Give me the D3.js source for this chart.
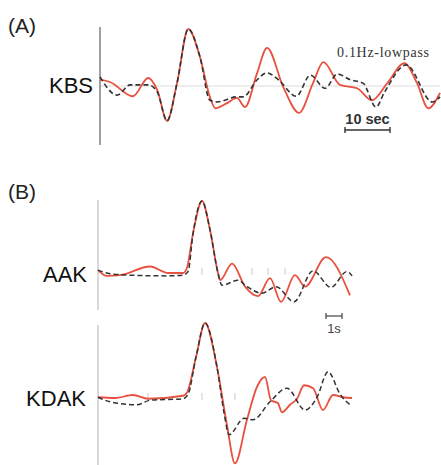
<!DOCTYPE html>
<html>
<head>
<meta charset="utf-8">
<script src="https://cdn.jsdelivr.net/npm/d3@7"></script>
<style>
  body { margin: 0; background: #fff; }
  svg { display: block; }
</style>
</head>
<body>
<div id="chart"></div>
<script>
// panel A (KBS, 0.1Hz lowpass), time in sec, amplitude normalised to main peak
var kbsRedT = [0, 2.2, 7.3, 10.7, 12.7, 14.9, 17.1, 19.6, 22.2, 24.4, 25.6, 28.2, 30.4, 32.2, 34.9, 37.1, 40.7, 44.2, 47.3, 49.6, 53.3, 57.1, 60.4, 63.8, 67.6, 70.4, 72.9, 75.5];
var kbsRed  = [0.11, 0.07, -0.18, 0.14, -0.07, -0.61, 0.05, 1.0, 0.51, -0.19, -0.39, -0.30, -0.21, -0.37, 0.23, 0.67, -0.02, -0.47, 0.05, 0.42, 0.02, -0.04, -0.25, 0.05, 0.40, 0.05, -0.39, -0.12];
var kbsDashT = [0, 3.8, 6.7, 10.7, 12.7, 14.9, 17.1, 19.6, 22.2, 24.4, 26.0, 30.4, 31.8, 34.9, 37.1, 39.6, 43.6, 46.7, 50.0, 52.7, 55.6, 58.4, 61.3, 63.1, 68.0, 73.8, 75.5];
var kbsDash  = [0.16, -0.16, 0.02, 0.02, -0.10, -0.61, 0.05, 1.0, 0.51, -0.25, -0.28, -0.19, -0.19, 0.11, 0.23, 0.11, -0.18, 0.19, -0.04, 0.21, 0.11, 0.05, -0.37, -0.12, 0.37, -0.28, -0.19];

// panel B, time in sec
var aakRedT = [0, 0.54, 1.38, 3.25, 4.38, 5.31, 5.56, 5.94, 6.5, 7.0, 7.5, 7.63, 8.38, 9.19, 10.0, 10.75, 11.44, 12.31, 12.94, 14.25, 15.75];
var aakRed  = [0.04, -0.04, -0.03, 0.09, 0.0, 0.0, 0.07, 0.55, 1.0, 0.60, 0.0, -0.10, 0.13, -0.19, -0.32, -0.07, -0.40, -0.03, -0.19, 0.22, -0.31];
var aakDashT = [0, 0.75, 2.0, 4.31, 5.31, 5.63, 5.94, 6.5, 7.0, 7.5, 7.75, 8.75, 9.31, 10.25, 11.13, 12.25, 13.44, 14.56, 15.56, 15.88];
var aakDash  = [0.04, -0.01, -0.03, -0.04, -0.03, 0.02, 0.55, 1.0, 0.60, 0.0, -0.17, -0.10, -0.19, -0.28, -0.19, -0.40, 0.03, -0.20, 0.02, -0.04];
var kdakRedT = [0, 1.06, 2.19, 3.13, 5.31, 5.56, 6.13, 6.69, 7.44, 8.06, 8.56, 9.31, 9.94, 10.44, 10.81, 11.25, 11.5, 12.0, 12.44, 12.88, 13.44, 14.06, 14.69, 15.31, 15.88];
var kdakRed  = [0.01, 0.0, 0.04, -0.01, 0.03, 0.07, 0.55, 1.0, 0.41, -0.36, -0.87, -0.29, 0.15, 0.28, -0.03, -0.07, -0.19, -0.09, -0.01, 0.17, 0.13, -0.16, 0.04, 0.01, 0.0];
var kdakDashT = [0, 0.75, 2.44, 3.25, 5.31, 5.63, 6.13, 6.69, 7.44, 7.88, 8.19, 9.13, 9.69, 10.75, 11.81, 12.94, 13.69, 14.38, 15.13, 15.81];
var kdakDash  = [0.01, -0.05, -0.09, -0.03, -0.01, 0.05, 0.55, 1.0, 0.41, -0.20, -0.49, -0.27, -0.29, -0.05, 0.13, -0.16, 0.01, 0.35, 0.05, -0.10];
var aakTicks = [6.5, 9.63, 10.63, 11.69];
var kdakTicks = [3.13, 6.5, 8.56];

var w = 441, h = 465;
var red = "#e8503f", dark = "#333";

var svg = d3.select("#chart").append("svg")
    .attr("width", w).attr("height", h)
    .style("font-family", "Liberation Sans, Arial, sans-serif");

function zip(t, v) {
    return t.map(function(d, i) { return [d, v[i]]; });
}

// ---- panel A
var xA = d3.scaleLinear().domain([0, 75.5]).range([100, 440]);
var yA = d3.scaleLinear().domain([-1, 1]).range([143, 29]);

svg.append("line") // zero line
    .attr("x1", xA(0)).attr("x2", xA(75.5))
    .attr("y1", yA(0)).attr("y2", yA(0))
    .attr("stroke", "#ddd").attr("stroke-width", 1);

svg.append("line") // left axis
    .attr("x1", xA(0)).attr("x2", xA(0))
    .attr("y1", 27).attr("y2", 145)
    .attr("stroke", "#888").attr("stroke-width", 1.6);

var lineA = d3.line()
    .x(function(d) { return xA(d[0]); })
    .y(function(d) { return yA(d[1]); })
    .curve(d3.curveMonotoneX);

svg.append("path").attr("d", lineA(zip(kbsRedT, kbsRed)))
    .attr("fill", "none").attr("stroke", red).attr("stroke-width", 1.8);
svg.append("path").attr("d", lineA(zip(kbsDashT, kbsDash)))
    .attr("fill", "none").attr("stroke", dark).attr("stroke-width", 1.6)
    .attr("stroke-dasharray", "5,3");

svg.append("text").attr("x", 8).attr("y", 33).text("(A)")
    .style("font-size", "21px").attr("fill", "#222");
svg.append("text").attr("x", 93).attr("y", 93).attr("text-anchor", "end").text("KBS")
    .style("font-size", "22px").attr("fill", "#111");
svg.append("text").attr("x", 337).attr("y", 57).text("0.1Hz-lowpass")
    .style("font-family", "Liberation Serif, Times New Roman, serif")
    .style("font-size", "14px").style("letter-spacing", "0.7px").attr("fill", "#333");

// 10 sec scale bar
var sbA = 54.4;
var gA = svg.append("g").attr("stroke", "#333").attr("stroke-width", 1.4);
gA.append("line").attr("x1", xA(sbA)).attr("x2", xA(sbA + 10)).attr("y1", 130).attr("y2", 130);
gA.append("line").attr("x1", xA(sbA)).attr("x2", xA(sbA)).attr("y1", 127).attr("y2", 133);
gA.append("line").attr("x1", xA(sbA + 10)).attr("x2", xA(sbA + 10)).attr("y1", 127).attr("y2", 133);
svg.append("text").attr("x", xA(sbA + 5)).attr("y", 124).attr("text-anchor", "middle")
    .text("10 sec").style("font-size", "14.5px").style("font-weight", "bold").attr("fill", "#333");

// ---- panel B
var xB = d3.scaleLinear().domain([0, 15.875]).range([98, 352]);
var yAAK = d3.scaleLinear().domain([-1, 1]).range([273 + 72, 273 - 72]);
var yKDAK = d3.scaleLinear().domain([-1, 1]).range([398 + 75, 398 - 75]);

svg.append("line").attr("x1", xB(0)).attr("x2", xB(0)).attr("y1", 200).attr("y2", 310)
    .attr("stroke", "#ccc").attr("stroke-width", 1.5);
svg.append("line").attr("x1", xB(0)).attr("x2", xB(0)).attr("y1", 325).attr("y2", 465)
    .attr("stroke", "#ccc").attr("stroke-width", 1.5);

function drawTrace(tR, vR, tD, vD, ticks, y) {
    var line = d3.line()
        .x(function(d) { return xB(d[0]); })
        .y(function(d) { return y(d[1]); })
        .curve(d3.curveMonotoneX);
    svg.append("g").selectAll("line").data(ticks).enter().append("line")
        .attr("x1", function(d) { return xB(d); }).attr("x2", function(d) { return xB(d); })
        .attr("y1", y(0) - 5).attr("y2", y(0) + 2)
        .attr("stroke", "#ccc").attr("stroke-width", 1);
    svg.append("path").attr("d", line(zip(tR, vR)))
        .attr("fill", "none").attr("stroke", red).attr("stroke-width", 1.8);
    svg.append("path").attr("d", line(zip(tD, vD)))
        .attr("fill", "none").attr("stroke", dark).attr("stroke-width", 1.5)
        .attr("stroke-dasharray", "5,3");
}
drawTrace(aakRedT, aakRed, aakDashT, aakDash, aakTicks, yAAK);
drawTrace(kdakRedT, kdakRed, kdakDashT, kdakDash, kdakTicks, yKDAK);

svg.append("text").attr("x", 8).attr("y", 199).text("(B)")
    .style("font-size", "21px").attr("fill", "#222");
svg.append("text").attr("x", 87).attr("y", 282).attr("text-anchor", "end").text("AAK")
    .style("font-size", "22px").attr("fill", "#111");
svg.append("text").attr("x", 86).attr("y", 406).attr("text-anchor", "end").text("KDAK")
    .style("font-size", "22px").attr("fill", "#111");

// 1s scale bar
var sbB = 14.25;
var gB = svg.append("g").attr("stroke", "#444").attr("stroke-width", 1.2);
gB.append("line").attr("x1", xB(sbB)).attr("x2", xB(sbB + 1)).attr("y1", 316).attr("y2", 316);
gB.append("line").attr("x1", xB(sbB)).attr("x2", xB(sbB)).attr("y1", 313).attr("y2", 319);
gB.append("line").attr("x1", xB(sbB + 1)).attr("x2", xB(sbB + 1)).attr("y1", 313).attr("y2", 319);
svg.append("text").attr("x", xB(sbB + 0.5)).attr("y", 333).attr("text-anchor", "middle")
    .text("1s").style("font-size", "13px").attr("fill", "#444");
</script>
</body>
</html>
